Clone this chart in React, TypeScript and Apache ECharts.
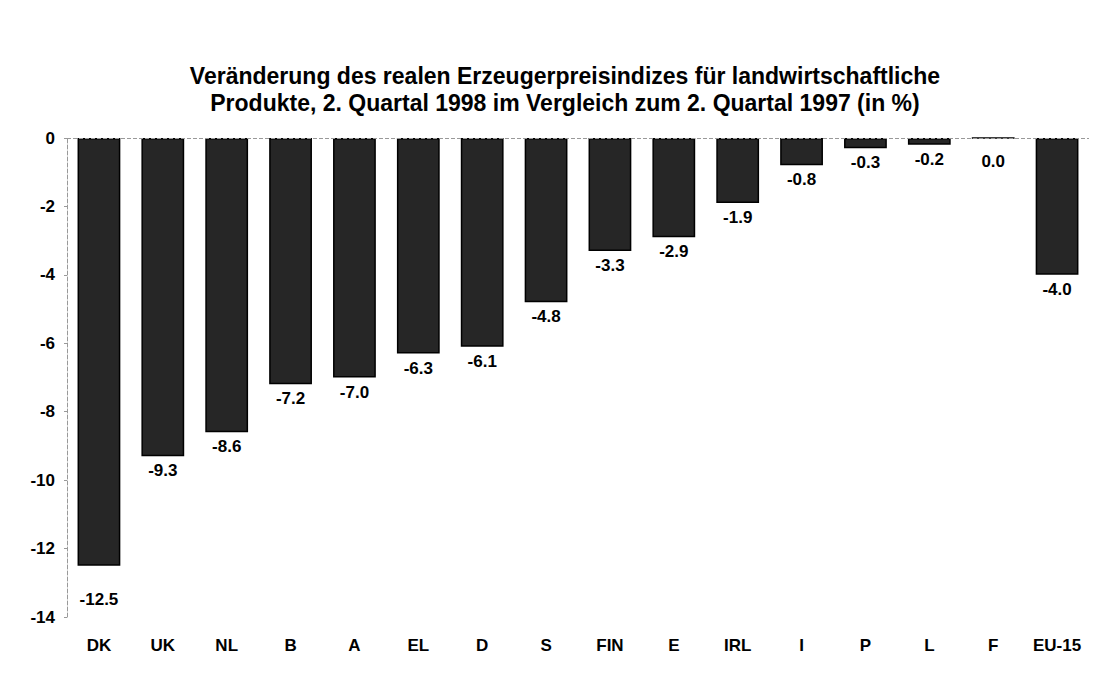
import React, { useEffect, useRef } from "react";
import * as echarts from "echarts";

const categories = ["DK", "UK", "NL", "B", "A", "EL", "D", "S", "FIN", "E", "IRL", "I", "P", "L", "F", "EU-15"];
const values = [-12.5, -9.3, -8.6, -7.2, -7.0, -6.3, -6.1, -4.8, -3.3, -2.9, -1.9, -0.8, -0.3, -0.2, 0.0, -4.0];
const titleText = "Veränderung des realen Erzeugerpreisindizes für landwirtschaftliche\nProdukte, 2. Quartal 1998 im Vergleich zum 2. Quartal 1997 (in %)";

export default function App() {
  const ref = useRef<HTMLDivElement>(null);
  useEffect(() => {
    if (!ref.current) return;
    const chart = echarts.init(ref.current, null, { renderer: "svg" });
    const font = "Liberation Sans, Arial, sans-serif";
    const data = values.map((v, i) => {
      const item: any = { value: v };
      if (i === 0) item.label = { distance: 25 };
      else if (v === 0) item.label = { distance: 14 };
      return item;
    });
    chart.setOption({
      animation: false,
      backgroundColor: "#ffffff",
      title: {
        text: titleText,
        left: 560,
        textAlign: "center",
        top: 57,
        textStyle: { fontFamily: font, fontSize: 23, fontWeight: "bold", color: "#000", lineHeight: 27 },
      },
      grid: { left: 67, right: 11, top: 138, bottom: 61, containLabel: false },
      xAxis: {
        type: "category",
        data: categories,
        axisLine: { show: false, onZero: false },
        axisTick: { show: false },
        axisLabel: { fontFamily: font, fontSize: 17, fontWeight: "bold", color: "#000", margin: 20 },
      },
      yAxis: {
        type: "value",
        min: -14,
        max: 0,
        interval: 2,
        axisLine: { show: true, lineStyle: { color: "#999", type: "dashed", width: 1 } },
        axisTick: { show: true, length: 3, lineStyle: { color: "#999" } },
        splitLine: { show: false },
        axisLabel: { fontFamily: font, fontSize: 17, fontWeight: "bold", color: "#000", margin: 12 },
      },
      series: [
        {
          type: "bar",
          data,
          barWidth: "67%",
          itemStyle: { color: "#262626", borderColor: "#000", borderWidth: 1.5 },
          label: {
            show: true,
            position: "bottom",
            distance: 6,
            formatter: (p: any) => Number(p.value).toFixed(1),
            fontFamily: font,
            fontSize: 17,
            fontWeight: "bold",
            color: "#000",
          },
          markLine: {
            silent: true,
            symbol: "none",
            label: { show: false },
            lineStyle: { color: "#999", type: "dashed", width: 1 },
            data: [{ yAxis: 0 }],
          },
        },
      ],
    });
    return () => chart.dispose();
  }, []);
  return (
    <div
      ref={ref}
      style={{ position: "fixed", left: 0, top: 0, width: 1100, height: 678, background: "#fff" }}
    />
  );
}
